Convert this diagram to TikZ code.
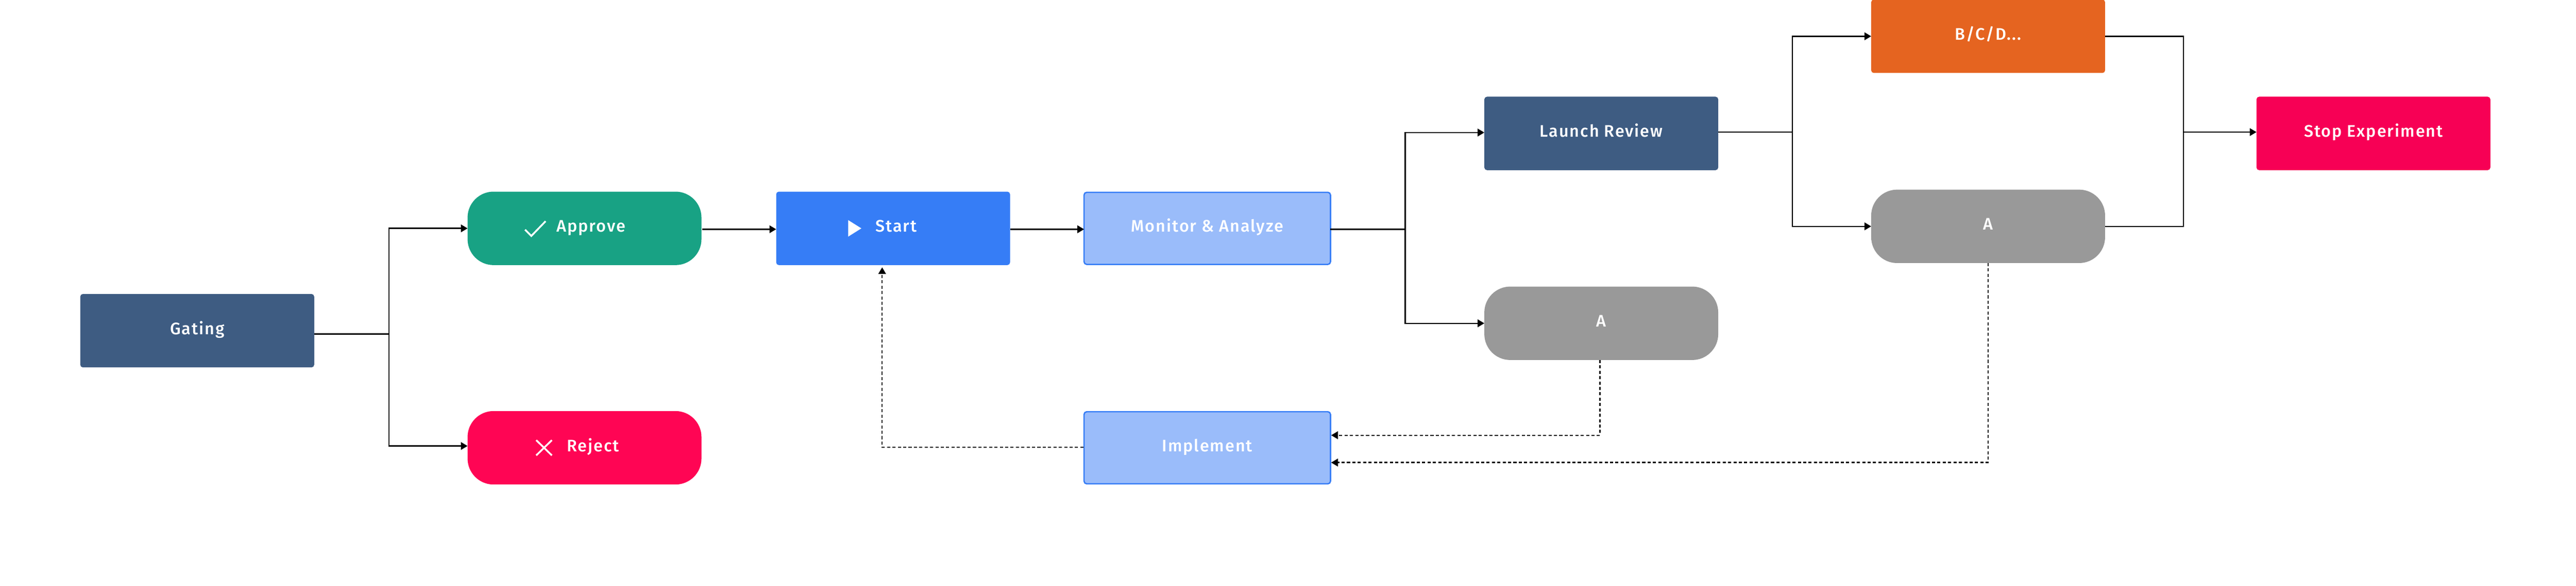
\documentclass[tikz,border=0pt]{standalone}
\usepackage{fontspec}
\setmainfont{Fira Sans Medium}[LetterSpace=6]
\usetikzlibrary{arrows.meta,positioning,calc}
\definecolor{gatingblue}{HTML}{3E5C82}
\definecolor{approvegreen}{HTML}{18A284}
\definecolor{rejectred}{HTML}{FF0554}
\definecolor{startblue}{HTML}{367DF6}
\definecolor{lightblue}{HTML}{9ABCFA}
\definecolor{keepgray}{HTML}{999999}
\definecolor{variantorange}{HTML}{E56420}
\definecolor{stopred}{HTML}{F70055}

\begin{document}
\begin{tikzpicture}

  \tikzstyle{every node}=[font=\fontsize{10.6}{12}\selectfont\color{white}]

  \tikzset{
    boxbase/.style={minimum width=5.23cm,minimum height=1.64cm,inner sep=0pt,outer sep=0pt,
      text height=0.26cm,text depth=0.10cm},
    stepbox/.style={boxbase,rounded corners=0.06cm,fill=#1},
    pillbox/.style={boxbase,rounded corners=0.58cm,fill=#1},
    lightbox/.style={boxbase,rounded corners=0.06cm,fill=lightblue,draw=startblue,
      line width=0.03cm,minimum width=5.51cm,minimum height=1.61cm},
    flow/.style={line width=0.028cm,-{Triangle[length=0.15cm,width=0.17cm]}},
    plainline/.style={line width=0.028cm},
    loopback/.style={flow,dash pattern=on 0.07cm off 0.05cm},
    icon/.style={white,line width=0.04cm}
  }

  \useasboundingbox (0,0) rectangle (57.6,-13.08);

  % Entities
  \node[stepbox=gatingblue] (Gating) at (4.41,-7.385) {Gating};
  \node[pillbox=approvegreen] (Approve) at (13.07,-5.10) {\hspace*{0.29cm}Approve};
  \node[pillbox=rejectred,below=3.26 of Approve] (Reject) {\hspace*{0.38cm}Reject};
  \node[stepbox=startblue,right=1.67 of Approve] (Start) {\hspace*{0.14cm}Start};
  \node[lightbox,right=1.655 of Start] (Monitor) {Monitor \& Analyze};
  \node[lightbox,below=3.29 of Monitor] (Implement) {Implement};
  \node[stepbox=gatingblue] (Launch Review) at (35.805,-2.98) {Launch Review};
  \node[pillbox=keepgray,below=2.60 of Launch Review] (Early A) {A};
  \node[stepbox=variantorange] (Variants) at (44.455,-0.81) {B/C/D...};
  \node[pillbox=keepgray] (Final A) at (44.455,-5.055) {A};
  \node[stepbox=stopred] (Stop) at (53.07,-2.98) {Stop Experiment};

  % Icons
  \draw[icon] ($(Approve.center)+(-1.33,-0.03)$) -- ++(0.14,-0.14) -- ++(0.32,0.33);
  \draw[icon] ($(Reject.center)+(-1.08,0.17)$) -- ++(0.35,-0.34);
  \draw[icon] ($(Reject.center)+(-1.08,-0.17)$) -- ++(0.35,0.34);
  \fill[white] ($(Start.center)+(-1.005,0.185)$) -- ++(0.295,-0.185) -- ++(-0.295,-0.185) -- cycle;

  % Splits
  \coordinate (gating split) at (8.70,-7.46);
  \coordinate (monitor split) at (31.42,-5.12);
  \coordinate (launch split) at (40.08,-2.95);
  \coordinate (stop merge) at (48.82,-2.95);

  % Gating decision
  \draw[plainline] (Gating.east |- gating split) -- (gating split);
  \draw[flow] (gating split) |- (Approve.west);
  \draw[flow] (gating split) |- ($(Reject.west)+(0,0.04)$);

  % Main line
  \draw[flow] ($(Approve.east)+(0.02,-0.02)$) -- ($(Start.west)+(0,-0.02)$);
  \draw[flow] ($(Start.east)+(0,-0.02)$) -- ($(Monitor.west)+(0,-0.02)$);
  \draw[plainline] (Monitor.east |- monitor split) -- (monitor split);
  \draw[flow] (monitor split) |- ($(Launch Review.west)+(0,0.02)$);
  \draw[flow] (monitor split) |- (Early A.west);

  % Launch review outcomes
  \draw[plainline] (Launch Review.east |- launch split) -- (launch split);
  \draw[flow] (launch split) |- (Variants.west);
  \draw[flow] (launch split) |- (Final A.west);
  \draw[plainline] (Variants.east) -| (stop merge);
  \draw[plainline] (Final A.east) -| (stop merge);
  \draw[flow] (stop merge) -- (Stop.west |- stop merge);

  % Loop back through implement
  \draw[loopback] ($(Early A.south)+(-0.03,0)$) |- ($(Implement.east)+(0.015,0.28)$);
  \draw[loopback] (Final A.south) |- ($(Implement.east)+(0.015,-0.33)$);
  \draw[loopback,shorten >=0.05cm] ($(Implement.west)+(-0.015,0.01)$) -| ($(Start.south)+(-0.245,0)$);

\end{tikzpicture}
\end{document}
